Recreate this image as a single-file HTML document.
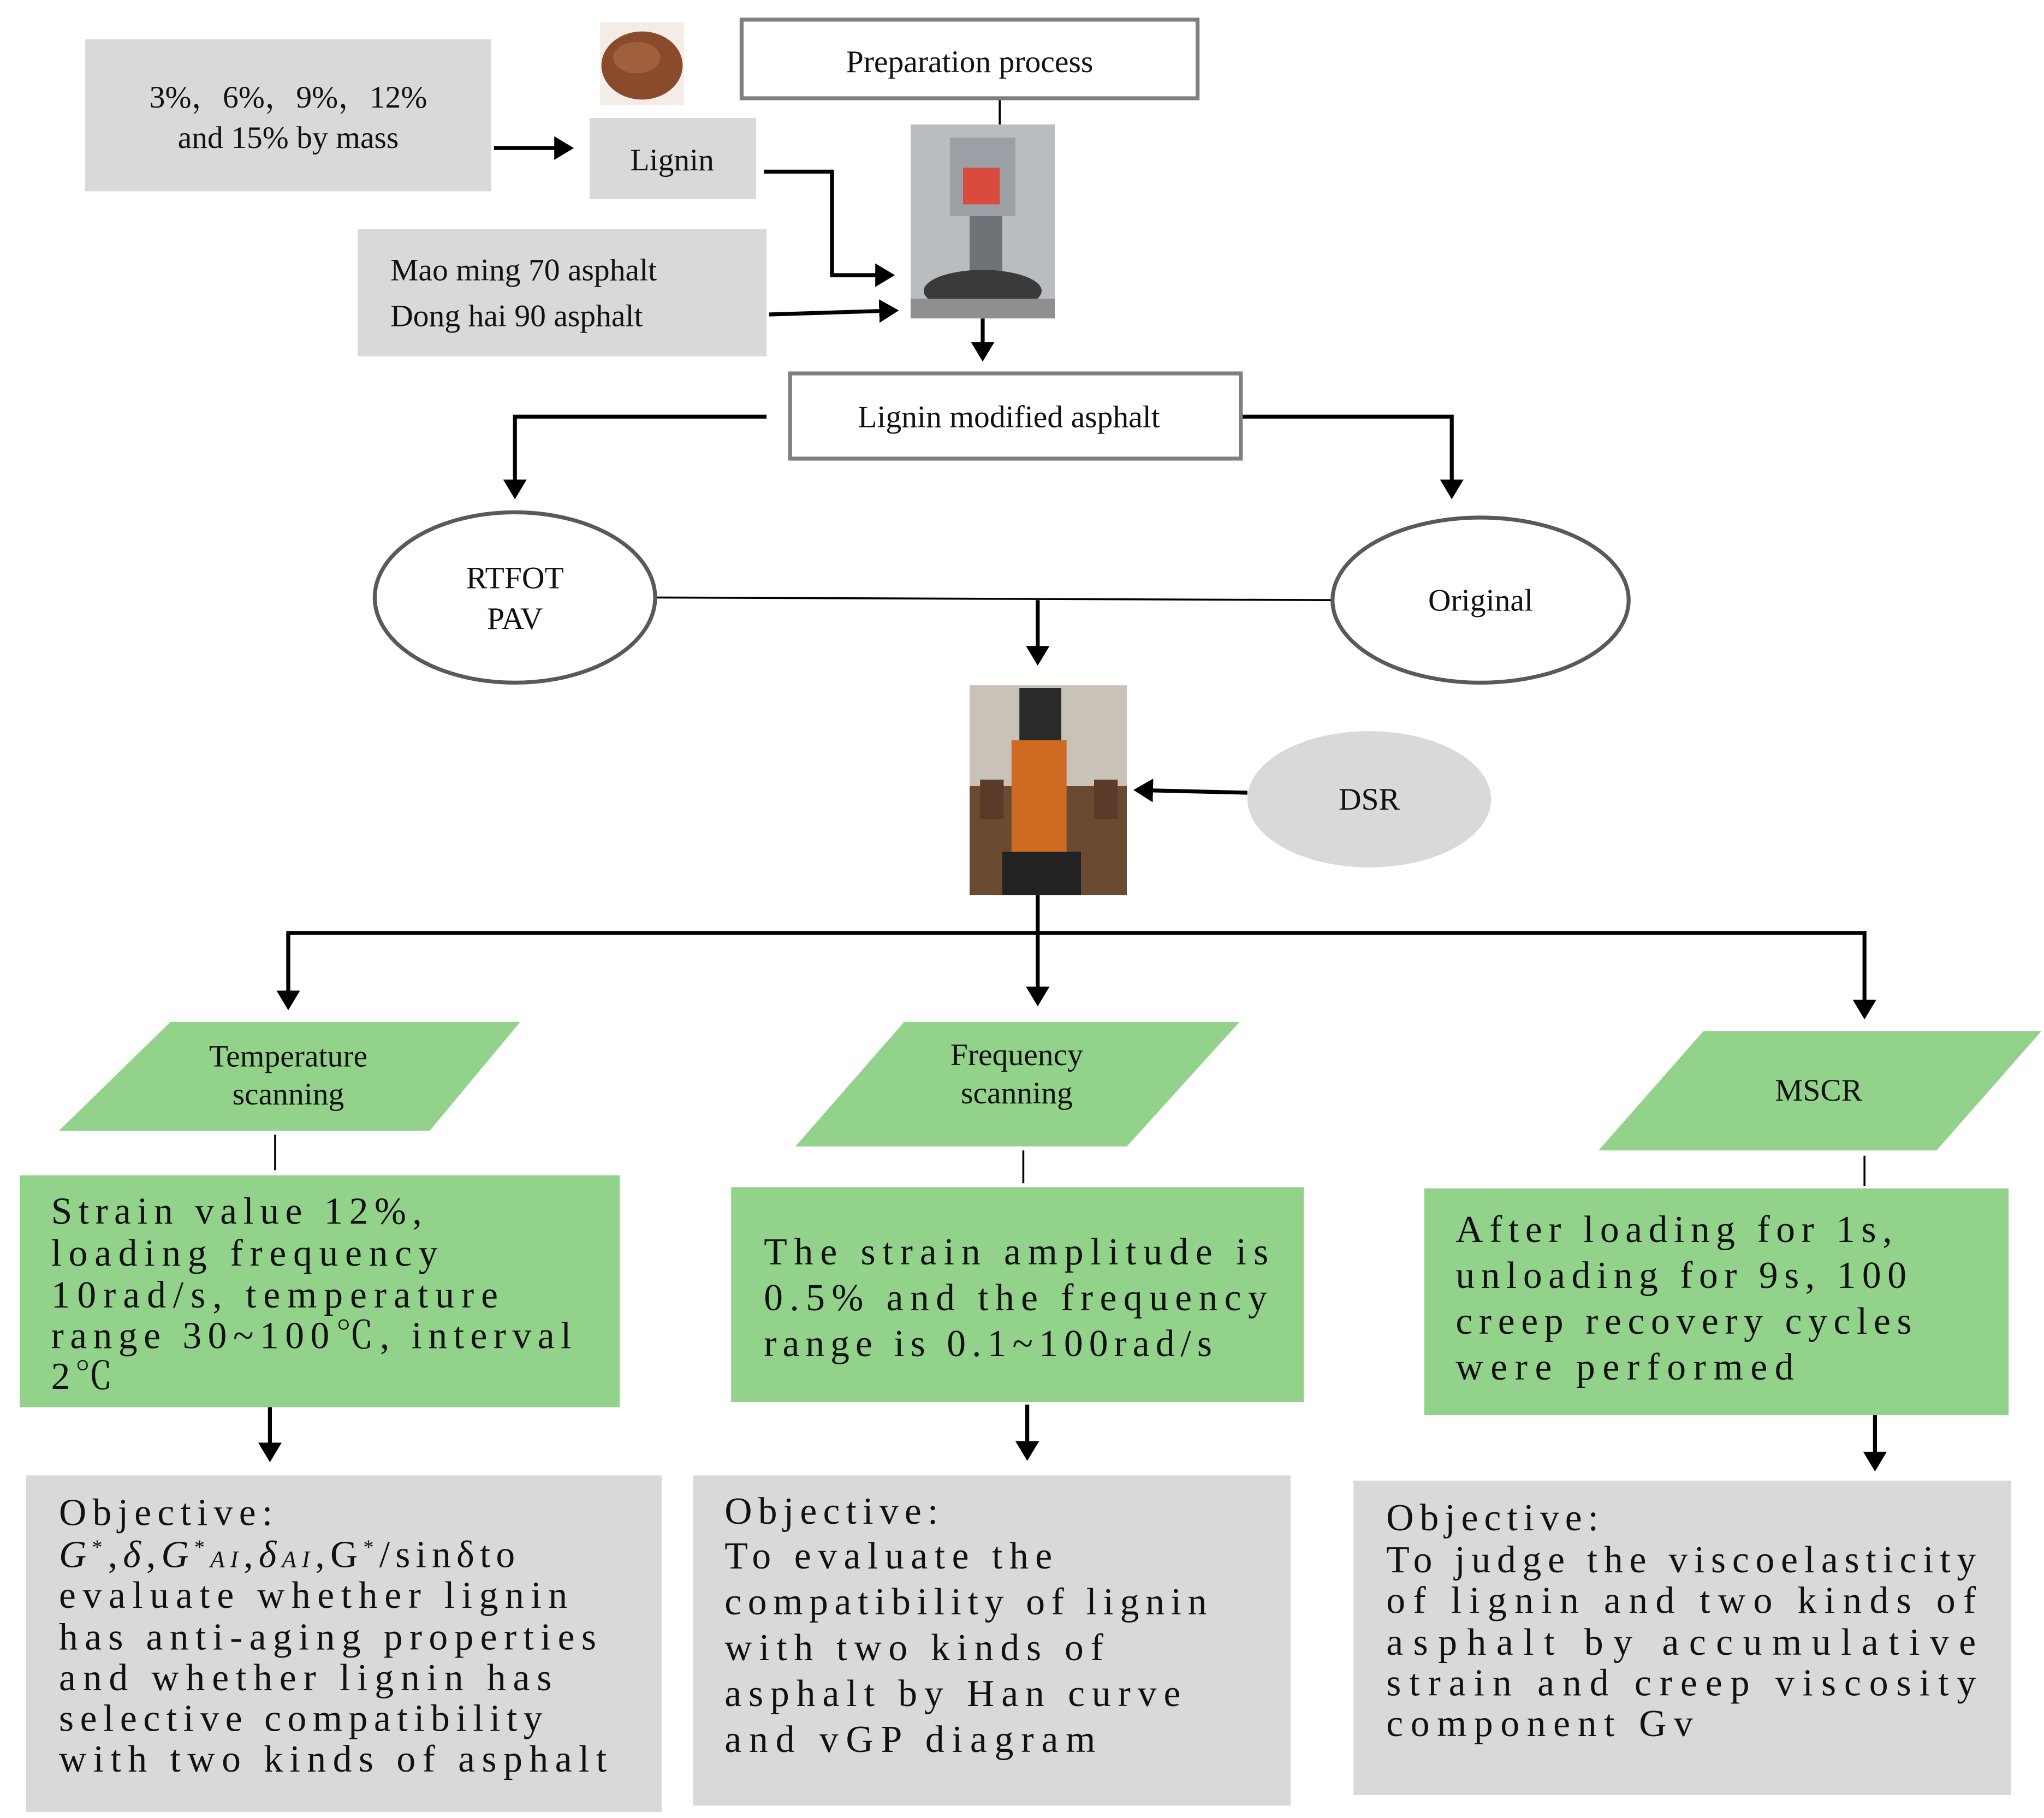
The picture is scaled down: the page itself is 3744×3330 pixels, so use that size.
<!DOCTYPE html>
<html><head><meta charset="utf-8"><style>
html,body{margin:0;padding:0;background:#fff;}
svg{display:block;}
text{font-family:"Liberation Serif","Noto Serif CJK SC",serif;fill:#111;}
</style></head><body>
<svg width="3744" height="3330" viewBox="0 0 1560 1387.5" xmlns="http://www.w3.org/2000/svg">
<defs>
<marker id="a" markerWidth="6" markerHeight="6" refX="4" refY="3" orient="auto" markerUnits="strokeWidth">
<path d="M0,0 L5,3 L0,6 z" fill="#000"/></marker>
</defs>
<g stroke="#000" stroke-width="3" fill="none">
<line x1="377" y1="113" x2="435" y2="113" marker-end="url(#a)"/>
<line x1="763" y1="75" x2="763" y2="95" stroke-width="1.5"/>
<polyline points="583,131 635,131 635,210 680,210" marker-end="url(#a)"/>
<line x1="587" y1="240" x2="683" y2="237" marker-end="url(#a)"/>
<line x1="750" y1="243" x2="750" y2="273" marker-end="url(#a)"/>
<polyline points="585,318 393,318 393,378" marker-end="url(#a)"/>
<polyline points="932,318 1108,318 1108,378" marker-end="url(#a)"/>
<line x1="500" y1="456" x2="1016" y2="458" stroke-width="1.5"/>
<line x1="792" y1="458" x2="792" y2="505" marker-end="url(#a)"/>
<line x1="952" y1="605" x2="868" y2="603" marker-end="url(#a)"/>
<line x1="792" y1="683" x2="792" y2="765" marker-end="url(#a)"/>
<polyline points="220,768 220,712 1423,712 1423,775" marker-end="url(#a)"/>
<line x1="220" y1="712" x2="220" y2="768" marker-end="url(#a)"/>
<line x1="206" y1="1068" x2="206" y2="1113" marker-end="url(#a)"/>
<line x1="784" y1="1072" x2="784" y2="1112" marker-end="url(#a)"/>
<line x1="1431" y1="1077" x2="1431" y2="1120" marker-end="url(#a)"/>
<line x1="210" y1="866" x2="210" y2="893" stroke-width="1.5"/>
<line x1="781" y1="878" x2="781" y2="903" stroke-width="1.5"/>
<line x1="1423" y1="882" x2="1423" y2="905" stroke-width="1.5"/>
</g>
<!-- boxes -->
<rect x="65" y="30" width="310" height="116" fill="#d9d9d9"/>
<rect x="450" y="90" width="127" height="62" fill="#d9d9d9"/>
<rect x="273" y="175" width="312" height="97" fill="#d9d9d9"/>
<rect x="566" y="15" width="348" height="60" fill="#fff" stroke="#7f7f7f" stroke-width="3"/>
<rect x="603" y="285" width="344" height="65" fill="#fff" stroke="#7f7f7f" stroke-width="3"/>
<!-- lignin photo -->
<rect x="458" y="17" width="64" height="63" fill="#f4ece6"/>
<ellipse cx="490" cy="50" rx="31" ry="26" fill="#8a4a2c"/>
<ellipse cx="486" cy="44" rx="18" ry="12" fill="#a0603c"/>
<!-- machine photo -->
<rect x="695" y="95" width="110" height="148" fill="#b9bdc0"/>
<rect x="725" y="105" width="50" height="60" fill="#9aa0a5"/>
<rect x="735" y="128" width="28" height="28" fill="#d94b3c"/>
<rect x="740" y="165" width="25" height="45" fill="#6e7378"/>
<ellipse cx="750" cy="222" rx="45" ry="16" fill="#3a3a3a"/>
<rect x="695" y="228" width="110" height="15" fill="#8f8f8f"/>
<!-- ellipses -->
<ellipse cx="393" cy="456" rx="107" ry="65" fill="#fff" stroke="#595959" stroke-width="3"/>
<ellipse cx="1130" cy="458" rx="113" ry="63" fill="#fff" stroke="#595959" stroke-width="3"/>
<ellipse cx="1045" cy="610" rx="93" ry="52" fill="#d9d9d9"/>
<!-- DSR photo -->
<rect x="740" y="523" width="120" height="160" fill="#c9c2b8"/>
<rect x="740" y="600" width="120" height="83" fill="#6b4a32"/>
<rect x="778" y="525" width="32" height="40" fill="#2a2a2a"/>
<rect x="772" y="565" width="42" height="90" fill="#cf6a22"/>
<rect x="765" y="650" width="60" height="33" fill="#222"/>
<rect x="748" y="595" width="18" height="30" fill="#5a3a28"/>
<rect x="835" y="595" width="18" height="30" fill="#5a3a28"/>
<!-- parallelograms -->
<polygon points="45,863 130,780 397,780 328,863" fill="#93d28a"/>
<polygon points="607,875 690,780 946,780 860,875" fill="#93d28a"/>
<polygon points="1220,878 1300,787 1558,787 1478,878" fill="#93d28a"/>
<!-- green boxes -->
<rect x="15" y="897" width="458" height="177" fill="#93d28a"/>
<rect x="558" y="906" width="437" height="164" fill="#93d28a"/>
<rect x="1087" y="907" width="446" height="173" fill="#93d28a"/>
<!-- gray bottom -->
<rect x="20" y="1126" width="485" height="257" fill="#d9d9d9"/>
<rect x="529" y="1126" width="456" height="252" fill="#d9d9d9"/>
<rect x="1033" y="1130" width="502" height="240" fill="#d9d9d9"/>

<g font-size="24" text-anchor="middle">
<text x="220" y="82">3%，6%，9%，12%</text>
<text x="220" y="113">and 15% by mass</text>
<text x="513" y="130">Lignin</text>
<text x="740" y="55">Preparation process</text>
<text x="770" y="326">Lignin modified asphalt</text>
<text x="393" y="449">RTFOT</text>
<text x="393" y="480">PAV</text>
<text x="1130" y="466">Original</text>
<text x="1045" y="618">DSR</text>
<text x="220" y="814">Temperature</text>
<text x="220" y="843">scanning</text>
<text x="776" y="813">Frequency</text>
<text x="776" y="842">scanning</text>
<text x="1388" y="840">MSCR</text>
</g>
<g font-size="24">
<text x="298" y="214">Mao ming 70 asphalt</text>
<text x="298" y="249">Dong hai 90 asphalt</text>
</g>
<g font-size="29" lengthAdjust="spacing">
<text x="39" y="934" textLength="283" lengthAdjust="spacing">Strain value 12%,</text>
<text x="39" y="966" textLength="295" lengthAdjust="spacing">loading frequency</text>
<text x="39" y="998" textLength="341" lengthAdjust="spacing">10rad/s, temperature</text>
<text x="39" y="1029" textLength="397" lengthAdjust="spacing">range 30~100℃, interval</text>
<text x="39" y="1060" textLength="47" lengthAdjust="spacing">2℃</text>

<text x="583" y="965" textLength="385" lengthAdjust="spacing">The strain amplitude is</text>
<text x="583" y="1000" textLength="384" lengthAdjust="spacing">0.5% and the frequency</text>
<text x="583" y="1035" textLength="342" lengthAdjust="spacing">range is 0.1~100rad/s</text>

<text x="1111" y="948" textLength="333" lengthAdjust="spacing">After loading for 1s,</text>
<text x="1111" y="983" textLength="344" lengthAdjust="spacing">unloading for 9s, 100</text>
<text x="1111" y="1018" textLength="348" lengthAdjust="spacing">creep recovery cycles</text>
<text x="1111" y="1053" textLength="258" lengthAdjust="spacing">were performed</text>

<text x="45" y="1164" textLength="163" lengthAdjust="spacing">Objective:</text>
<text x="45" y="1196" textLength="348" lengthAdjust="spacing"><tspan font-style="italic">G</tspan><tspan font-size="16" dy="-10">*</tspan><tspan dy="10">,</tspan><tspan font-style="italic">δ</tspan>,<tspan font-style="italic">G</tspan><tspan font-size="16" dy="-10">*</tspan><tspan font-size="18" font-style="italic" dy="10">AI</tspan>,<tspan font-style="italic">δ</tspan><tspan font-size="18" font-style="italic">AI</tspan>,G<tspan font-size="16" dy="-10">*</tspan><tspan dy="10">/sinδto</tspan></text>
<text x="45" y="1227" textLength="388" lengthAdjust="spacing">evaluate whether lignin</text>
<text x="45" y="1259" textLength="410" lengthAdjust="spacing">has anti-aging properties</text>
<text x="45" y="1290" textLength="376" lengthAdjust="spacing">and whether lignin has</text>
<text x="45" y="1321" textLength="369" lengthAdjust="spacing">selective compatibility</text>
<text x="45" y="1352" textLength="418" lengthAdjust="spacing">with two kinds of asphalt</text>

<text x="553" y="1163" textLength="163" lengthAdjust="spacing">Objective:</text>
<text x="553" y="1197" textLength="250" lengthAdjust="spacing">To evaluate the</text>
<text x="553" y="1232" textLength="368" lengthAdjust="spacing">compatibility of lignin</text>
<text x="553" y="1267" textLength="289" lengthAdjust="spacing">with two kinds of</text>
<text x="553" y="1302" textLength="348" lengthAdjust="spacing">asphalt by Han curve</text>
<text x="553" y="1337" textLength="283" lengthAdjust="spacing">and vGP diagram</text>

<text x="1058" y="1168" textLength="162" lengthAdjust="spacing">Objective:</text>
<text x="1058" y="1200" textLength="450" lengthAdjust="spacing">To judge the viscoelasticity</text>
<text x="1058" y="1231" textLength="450" lengthAdjust="spacing">of lignin and two kinds of</text>
<text x="1058" y="1263" textLength="450" lengthAdjust="spacing">asphalt  by  accumulative</text>
<text x="1058" y="1294" textLength="450" lengthAdjust="spacing">strain and creep viscosity</text>
<text x="1058" y="1325" textLength="234" lengthAdjust="spacing">component Gv</text>
</g>
</svg>
</body></html>
